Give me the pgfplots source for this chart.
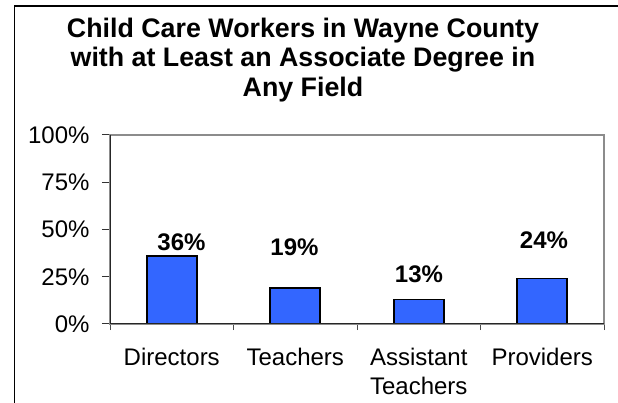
\documentclass[border=0pt]{standalone}
\usepackage{pgfplots}
\pgfplotsset{compat=1.18}
\usepackage{fontspec}
\setmainfont{Liberation Sans}
\definecolor{barblue}{RGB}{51,102,255}
\definecolor{framegray}{RGB}{140,140,140}
\begin{document}
\begin{tikzpicture}
\path[use as bounding box] (0,0) rectangle (618bp,403bp);
\draw[line width=1.5bp] (14.5bp,-5bp) -- (14.5bp,397bp) -- (625bp,397bp);
\node[font=\bfseries\fontsize{26.8bp}{29.5bp}\selectfont, anchor=base, inner sep=0pt] at (303bp,365.7bp) {Child Care Workers in Wayne County};
\node[font=\bfseries\fontsize{26.8bp}{29.5bp}\selectfont, anchor=base, inner sep=0pt] at (303bp,336.2bp) {with at Least an Associate Degree in};
\node[font=\bfseries\fontsize{26.8bp}{29.5bp}\selectfont, anchor=base, inner sep=0pt] at (303bp,306.7bp) {Any Field};
\begin{axis}[
  at={(110bp,79bp)}, anchor=south west,
  scale only axis, width=494bp, height=189bp,
  xmin=-0.5, xmax=3.5, ymin=0, ymax=100,
  ybar, bar width=50bp,
  axis line style={framegray, line width=1.3bp},
  tick align=outside,
  xtick pos=lower, ytick pos=left,
  ytick={0,25,50,75,100},
  yticklabels={0\%,25\%,50\%,75\%,100\%},
  xtick={0,1,2,3},
  xticklabels={Directors,Teachers,{Assistant\\Teachers},Providers},
  minor xtick={-0.5,0.5,1.5,2.5,3.5},
  major tick length=8bp,
  minor tick length=6bp,
  x tick style={draw=none},
  minor x tick style={draw=black!70, line width=1bp},
  y tick style={black!80, line width=1bp},
  tick label style={font=\fontsize{24bp}{28.5bp}\selectfont},
  xticklabel style={align=center, yshift=-13bp},
  yticklabel style={xshift=-9bp},
]
\addplot[fill=barblue, draw=black, line width=1.6bp] coordinates {(0,36) (1,19) (2,13) (3,24)};
\draw[black!85, line width=1.3bp] (rel axis cs:0,1) -- (rel axis cs:0,0) -- (rel axis cs:1,0);
\node[anchor=base, font=\bfseries\fontsize{24bp}{28bp}\selectfont] at (axis cs:0.079,38.8) {36\%};
\node[anchor=base, font=\bfseries\fontsize{24bp}{28bp}\selectfont] at (axis cs:0.994,36.5) {19\%};
\node[anchor=base, font=\bfseries\fontsize{24bp}{28bp}\selectfont] at (axis cs:2.002,22.2) {13\%};
\node[anchor=base, font=\bfseries\fontsize{24bp}{28bp}\selectfont] at (axis cs:3.014,39.7) {24\%};
\end{axis}
\end{tikzpicture}
\end{document}
